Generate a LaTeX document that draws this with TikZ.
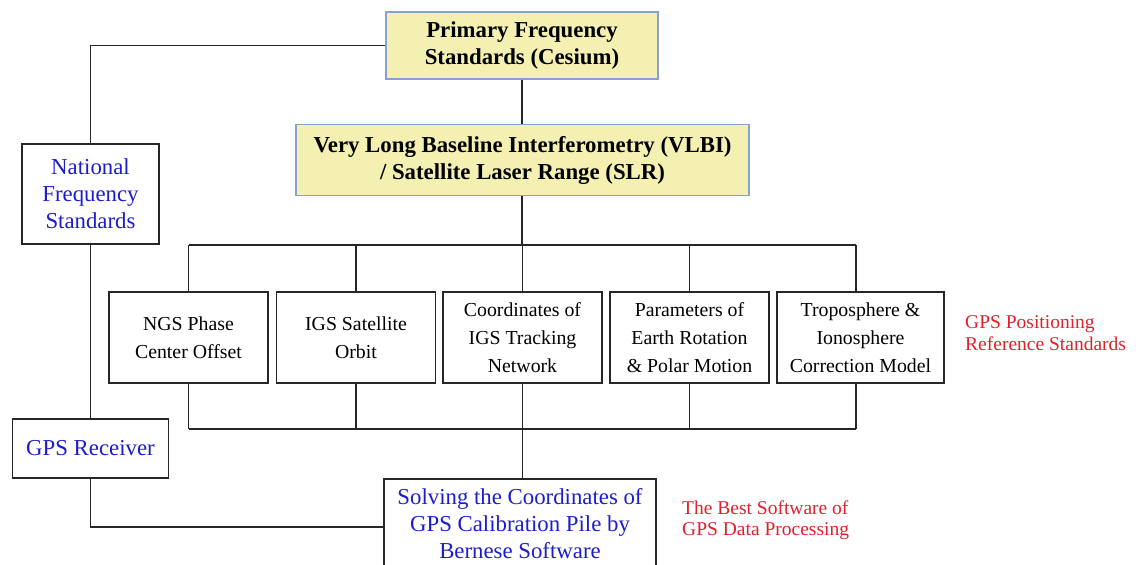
\documentclass[tikz,border=0pt]{standalone}
\usepackage{fontspec}
\setmainfont{Liberation Serif}
\definecolor{stdfill}{HTML}{F3F0B2}
\definecolor{stdedge}{HTML}{86A0D8}
\definecolor{bluetxt}{HTML}{1C1CCC}
\definecolor{redtxt}{HTML}{E0202C}
\tikzset{
  wire/.style={line width=1.5pt, draw=black!85},
  stdbox/.style={draw=stdedge, fill=stdfill, line width=1.2pt, align=center,
    inner sep=0pt, font=\fontsize{22.8}{27}\selectfont\bfseries},
  refbox/.style={draw=black!85, line width=1.5pt, align=center, inner sep=0pt,
    minimum width=159pt, minimum height=91pt, font=\fontsize{19.8}{28}\selectfont},
  userbox/.style={draw=black!85, line width=1.5pt, align=center, inner sep=0pt,
    text=bluetxt, font=\fontsize{22.8}{27}\selectfont},
  note/.style={text=redtxt, align=left, inner sep=0pt, anchor=west,
    font=\fontsize{19.5}{21.5}\selectfont}
}
\begin{document}
\begin{tikzpicture}[x=1pt,y=-1pt]
\useasboundingbox (0,0) rectangle (1136,565);

% frequency standards chain
\node[stdbox, minimum width=272pt, minimum height=67pt] (prim) at (522,45.5)
  {Primary Frequency\\Standards (Cesium)};
\node[stdbox, minimum width=453pt, minimum height=71pt] (vlbi) at (522.5,160)
  {Very Long Baseline Interferometry (VLBI)\\/ Satellite Laser Range (SLR)};
\node[userbox, minimum width=137pt, minimum height=100pt] (nat) at (90.5,194)
  {National\\Frequency\\Standards};
\node[userbox, minimum width=156pt, minimum height=59pt] (gps) at (90.5,448.5)
  {GPS Receiver};

% positioning reference standards
\node[refbox] (b1) at (188.5,337.5) {NGS Phase\\Center Offset};
\node[refbox] (b2) at (356,337.5) {IGS Satellite\\Orbit};
\node[refbox] (b3) at (522.5,337.5) {Coordinates of\\IGS Tracking\\Network};
\node[refbox] (b4) at (689.5,337.5) {Parameters of\\Earth Rotation\\\& Polar Motion};
\node[refbox, minimum width=167pt] (b5) at (860.5,337.5)
  {Troposphere \&\\Ionosphere\\Correction Model};

% processing (box runs past the lower edge)
\node[userbox, minimum width=272pt, inner ysep=10pt, anchor=north] (solve) at (520,478)
  {Solving the Coordinates of\\GPS Calibration Pile by\\Bernese Software};

% side notes
\node[note] (n1) at (965,333) {GPS Positioning\\Reference Standards};
\node[note] (n2) at (682,520) {The Best Software of\\GPS Data Processing};

% bus lines
\coordinate (top1) at (188.5,245);
\coordinate (top5) at (856,245);
\coordinate (low1) at (188.5,429);
\coordinate (low5) at (856,429);
\coordinate (feed) at (90.5,527);

\draw[wire] (prim.west) -| (nat.north);
\draw[wire] (nat.south) -- (gps.north);
\draw[wire] (gps.south) -- (feed) -- (feed -| solve.west);
\draw[wire] (prim.south) -- (prim.south |- vlbi.north);
\draw[wire] (prim.south |- vlbi.south) -- (prim.south |- top1);
\draw[wire] (top1) -- (top5);
\draw[wire] (low1) -- (low5);
\foreach \b in {b1,b2,b3,b4}{
  \draw[wire] (\b.north |- top1) -- (\b.north);
  \draw[wire] (\b.south) -- (\b.south |- low1);
}
\draw[wire] (top5) -- (top5 |- b5.north);
\draw[wire] (top5 |- b5.south) -- (low5);
\draw[wire] (b3.south |- low1) -- (b3.south |- solve.north);
\end{tikzpicture}
\end{document}
